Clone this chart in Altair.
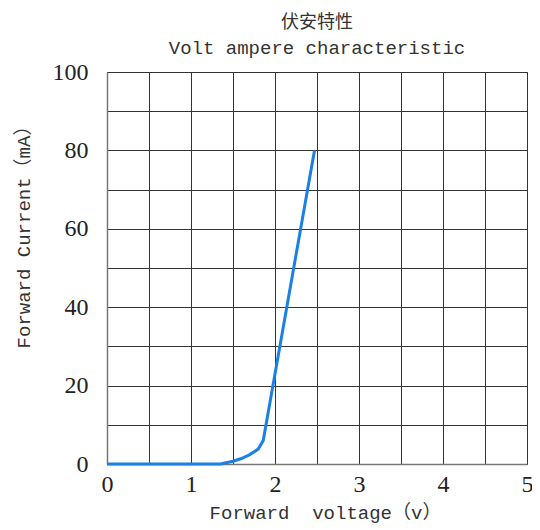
import altair as alt
import pandas as pd

voltage = [0.0, 1.35, 1.5, 1.6, 1.7, 1.8, 1.86, 2.47]
current = [0.0, 0.0, 0.7, 1.4, 2.4, 3.8, 6.0, 80.0]

x_grid = [0, 0.5, 1, 1.5, 2, 2.5, 3, 3.5, 4, 4.5, 5]
y_grid = [0, 10, 20, 30, 40, 50, 60, 70, 80, 90, 100]

df = pd.DataFrame({"v": voltage, "i": current})

mono = "'Liberation Mono', 'Noto Sans CJK SC', monospace"

chart = alt.Chart(df).mark_line(color="#1a80e5", strokeWidth=3).encode(
    x=alt.X("v:Q", scale=alt.Scale(domain=[0, 5], nice=False),
            axis=alt.Axis(values=x_grid, title="Forward\u00a0\u00a0voltage（v）",
                          labelExpr="datum.value % 1 == 0 ? format(datum.value, 'd') : ''",
                          labelFlush=False, labelAlign="center",
                          labelPadding=8, titleX=218, titleY=48,
                          titleBaseline="middle", titleAlign="center")),
    y=alt.Y("i:Q", scale=alt.Scale(domain=[0, 100], nice=False),
            axis=alt.Axis(values=y_grid, title="Forward Current（mA）",
                          labelExpr="datum.value % 20 == 0 ? format(datum.value, 'd') : ''",
                          labelFlush=False,
                          labelPadding=19, titleX=-84, titleY=160,
                          titleBaseline="middle", titleAlign="center")),
).properties(
    width=420, height=392,
    title=alt.TitleParams(text="伏安特性", subtitle="Volt ampere characteristic",
                          anchor="middle", font="Noto Sans CJK SC", fontSize=18,
                          fontWeight="normal", color="#333",
                          subtitleFont=mono, subtitleFontSize=19,
                          subtitleColor="#333", subtitlePadding=7, offset=2),
    autosize="none",
    padding={"left": 99, "top": 64, "right": 5, "bottom": 64},
).configure_axis(
    grid=True, gridColor="#333", gridWidth=1, gridOpacity=1,
    ticks=False, domainColor="#777", domainWidth=1.5,
    labelFont="Liberation Serif", labelFontSize=24, labelColor="#222",
    titleFont=mono, titleFontSize=19, titleFontWeight="normal",
    titleColor="#333",
).configure_view(stroke="#333", strokeWidth=1)

chart.save("out.html", embed_options={"renderer": "svg", "actions": False})
